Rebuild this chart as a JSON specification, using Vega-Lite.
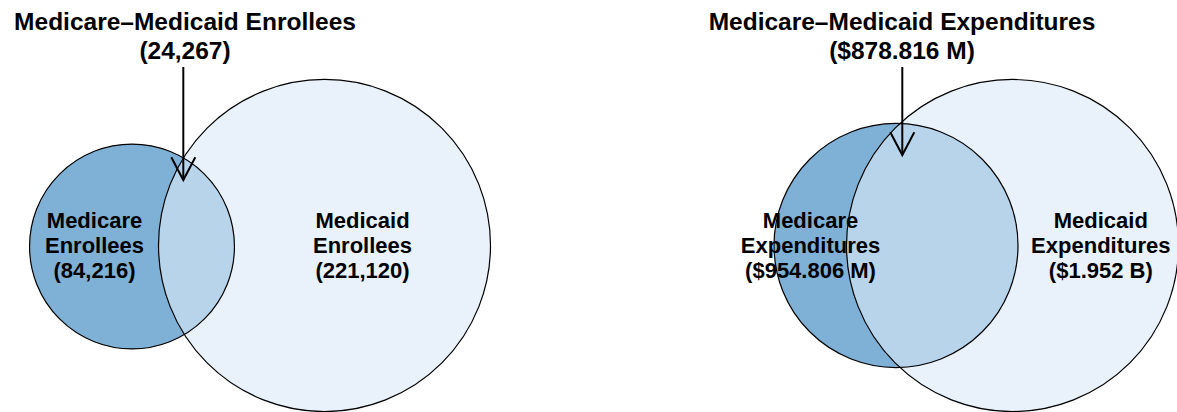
{
  "$schema": "https://vega.github.io/schema/vega-lite/v6.json",
  "width": 1177,
  "height": 412,
  "autosize": "none",
  "padding": 0,
  "background": "white",
  "config": {"view": {"stroke": null}, "font": "Liberation Sans"},
  "datasets": {
    "circles": [
      {"panel": "left", "set": "Medicare", "value": 84216, "x": 132, "y": 246.5},
      {"panel": "left", "set": "Medicaid", "value": 221120, "x": 324.5, "y": 245.5},
      {"panel": "right", "set": "Medicare", "value": 954.806, "x": 896, "y": 245.5},
      {"panel": "right", "set": "Medicaid", "value": 1952, "x": 1012.5, "y": 245.5}
    ],
    "arrows": [
      {"panel": "left", "x": 183.3, "y_start": 67, "y_end": 180},
      {"panel": "right", "x": 902.3, "y_start": 67, "y_end": 155}
    ],
    "labels": [
      {"x": 94.5, "y": 228.3, "text": "Medicare\nEnrollees\n(84,216)"},
      {"x": 362.5, "y": 228.3, "text": "Medicaid\nEnrollees\n(221,120)"},
      {"x": 810.5, "y": 228.3, "text": "Medicare\nExpenditures\n($954.806 M)"},
      {"x": 1100.8, "y": 228.3, "text": "Medicaid\nExpenditures\n($1.952 B)"}
    ],
    "titles": [
      {"x": 185, "y": 30, "text": "Medicare–Medicaid Enrollees\n(24,267)"},
      {"x": 902, "y": 30, "text": "Medicare–Medicaid Expenditures\n($878.816 M)"}
    ]
  },
  "resolve": {"scale": {"size": "independent"}},
  "layer": [
    {
      "data": {"name": "circles"},
      "transform": [{"filter": "datum.panel === 'left'"}],
      "encoding": {
        "x": {"field": "x", "type": "quantitative", "scale": {"domain": [0, 1177], "nice": false, "zero": false}, "axis": null},
        "y": {"field": "y", "type": "quantitative", "scale": {"domain": [0, 412], "nice": false, "zero": false, "reverse": true}, "axis": null},
        "size": {"field": "value", "type": "quantitative", "scale": {"domain": [0, 221120], "range": [0, 110224], "zero": true}, "legend": null}
      },
      "layer": [
        {"transform": [{"filter": "datum.set === 'Medicare'"}], "mark": {"type": "point", "shape": "circle", "filled": true, "fill": "#7FB0D5", "opacity": 1, "strokeWidth": 0}},
        {"transform": [{"filter": "datum.set === 'Medicaid'"}], "mark": {"type": "point", "shape": "circle", "filled": true, "fill": "#DCEAF7", "opacity": 1, "fillOpacity": 0.62, "strokeWidth": 0}},
        {"mark": {"type": "point", "shape": "circle", "filled": false, "stroke": "black", "strokeWidth": 1.2, "opacity": 1}}
      ]
    },
    {
      "data": {"name": "circles"},
      "transform": [{"filter": "datum.panel === 'right'"}],
      "encoding": {
        "x": {"field": "x", "type": "quantitative", "scale": {"domain": [0, 1177], "nice": false, "zero": false}, "axis": null},
        "y": {"field": "y", "type": "quantitative", "scale": {"domain": [0, 412], "nice": false, "zero": false, "reverse": true}, "axis": null},
        "size": {"field": "value", "type": "quantitative", "scale": {"domain": [954.806, 1952], "range": [59536, 110224], "zero": false}, "legend": null}
      },
      "layer": [
        {"transform": [{"filter": "datum.set === 'Medicare'"}], "mark": {"type": "point", "shape": "circle", "filled": true, "fill": "#7FB0D5", "opacity": 1, "strokeWidth": 0}},
        {"transform": [{"filter": "datum.set === 'Medicaid'"}], "mark": {"type": "point", "shape": "circle", "filled": true, "fill": "#DCEAF7", "opacity": 1, "fillOpacity": 0.62, "strokeWidth": 0}},
        {"mark": {"type": "point", "shape": "circle", "filled": false, "stroke": "black", "strokeWidth": 1.2, "opacity": 1}}
      ]
    },
    {
      "data": {"name": "arrows"},
      "mark": {"type": "rule", "color": "black", "strokeWidth": 2},
      "encoding": {
        "x": {"field": "x", "type": "quantitative", "scale": {"domain": [0, 1177], "nice": false, "zero": false}, "axis": null},
        "y": {"field": "y_start", "type": "quantitative", "scale": {"domain": [0, 412], "nice": false, "zero": false, "reverse": true}, "axis": null},
        "y2": {"field": "y_end"}
      }
    },
    {
      "data": {"name": "arrows"},
      "mark": {"type": "point", "shape": "M -1 -1.9 L 0 0 L 1 -1.9", "size": 576, "filled": false, "stroke": "black", "strokeWidth": 2, "opacity": 1},
      "encoding": {
        "x": {"field": "x", "type": "quantitative", "scale": {"domain": [0, 1177], "nice": false, "zero": false}, "axis": null},
        "y": {"field": "y_end", "type": "quantitative", "scale": {"domain": [0, 412], "nice": false, "zero": false, "reverse": true}, "axis": null}
      }
    },
    {
      "data": {"name": "labels"},
      "mark": {"type": "text", "font": "Liberation Sans", "fontSize": 22, "fontWeight": "bold", "align": "center", "baseline": "alphabetic", "lineBreak": "\n", "lineHeight": 25, "color": "black"},
      "encoding": {
        "x": {"field": "x", "type": "quantitative", "scale": {"domain": [0, 1177], "nice": false, "zero": false}, "axis": null},
        "y": {"field": "y", "type": "quantitative", "scale": {"domain": [0, 412], "nice": false, "zero": false, "reverse": true}, "axis": null},
        "text": {"field": "text", "type": "nominal"}
      }
    },
    {
      "data": {"name": "titles"},
      "mark": {"type": "text", "font": "Liberation Sans", "fontSize": 24.5, "fontWeight": "bold", "align": "center", "baseline": "alphabetic", "lineBreak": "\n", "lineHeight": 29.3, "color": "black"},
      "encoding": {
        "x": {"field": "x", "type": "quantitative", "scale": {"domain": [0, 1177], "nice": false, "zero": false}, "axis": null},
        "y": {"field": "y", "type": "quantitative", "scale": {"domain": [0, 412], "nice": false, "zero": false, "reverse": true}, "axis": null},
        "text": {"field": "text", "type": "nominal"}
      }
    }
  ]
}
